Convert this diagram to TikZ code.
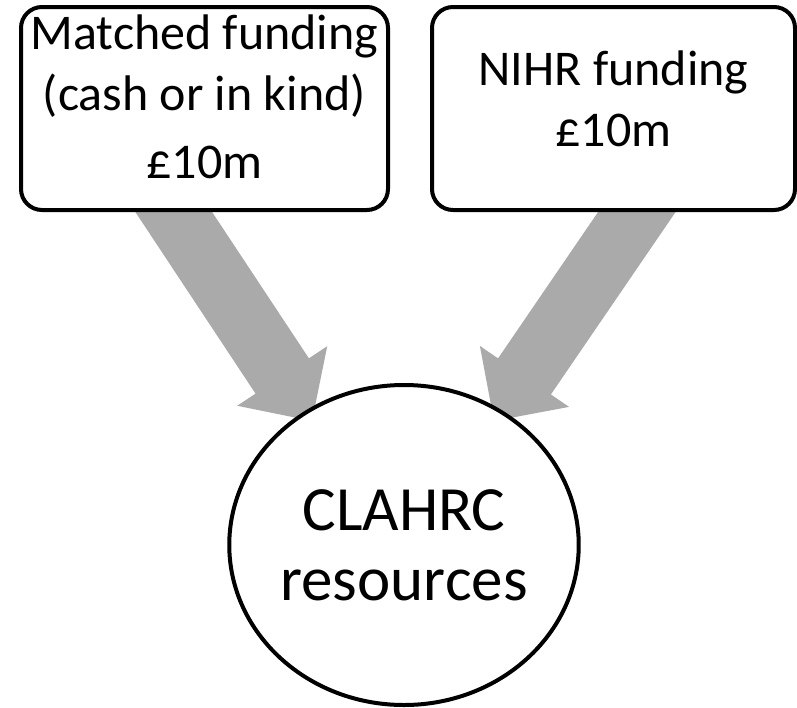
\documentclass[tikz,border=0pt]{standalone}
\usepackage{fontspec}
\setmainfont{Carlito}
\usetikzlibrary{calc,shapes.geometric,backgrounds}
\definecolor{arrowgrey}{RGB}{170,170,170}
\newcommand{\bigtext}{\fontsize{50}{61}\selectfont}
\newcommand{\hugetext}{\fontsize{63}{70}\selectfont}
\newcommand{\fatarrow}[2]{%
	\coordinate (h) at ($(#2)!54pt!(#1)$);
	\fill[arrowgrey] ($(#1)!32pt!90:(#2)$) -- ($(h)!32pt!90:(#2)$) -- ($(h)!54pt!90:(#2)$) -- (#2)
		-- ($(h)!54pt!-90:(#2)$) -- ($(h)!32pt!-90:(#2)$) -- ($(#1)!32pt!-90:(#2)$) -- cycle;}
\tikzset{
	fundbox/.style={draw, line width=4pt, rounded corners=21pt, fill=white, minimum width=367pt,
		minimum height=203pt, inner sep=0pt, align=center, font=\bigtext},
	poolnode/.style={draw, ellipse, line width=4pt, fill=white, minimum width=342pt,
		minimum height=320pt, inner sep=0pt, align=center, font=\hugetext}
}
\begin{document}
\begin{tikzpicture}[x=1pt,y=-1pt]
	\useasboundingbox (0,0) rectangle (797,707);
	\node[fundbox, text depth=24pt] (matched) at (204.5,108.5) {Matched funding\\(cash or in kind)\\[7pt]£10m};
	\node[fundbox, text depth=20pt, minimum width=363pt] (nihr) at (613.5,108.5) {NIHR funding\\£10m};
	\node[poolnode] (clahrc) at (404,545) {CLAHRC\\resources};
	\coordinate (fromL) at ($(matched.south)+(-44,-20)$);
	\coordinate (toL) at ($(clahrc.center)+(-92,-124)$);
	\coordinate (fromR) at ($(nihr.south)+(37,-20)$);
	\coordinate (toR) at ($(clahrc.center)+(90,-124)$);
	\begin{scope}[on background layer]
		\fatarrow{fromL}{toL}
		\fatarrow{fromR}{toR}
	\end{scope}
	\end{tikzpicture}
\end{document}
